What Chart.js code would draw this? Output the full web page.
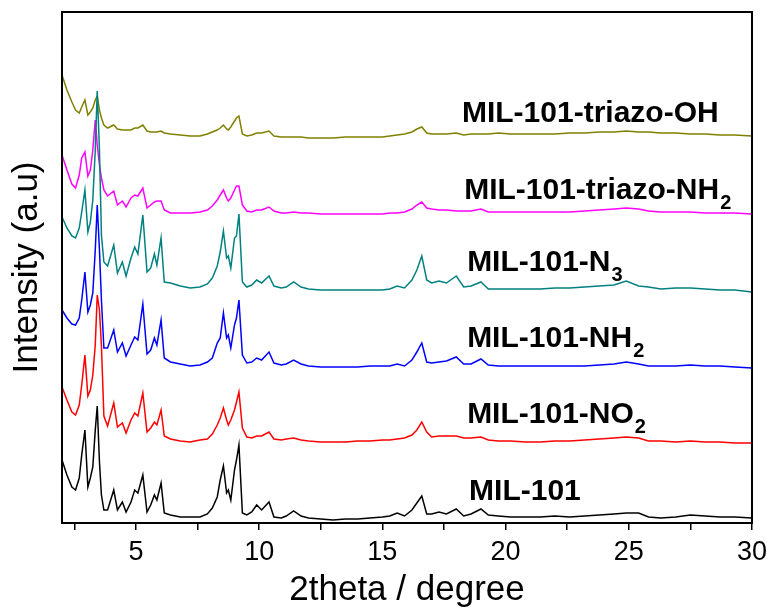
<!DOCTYPE html>
<html>
<head>
<meta charset="utf-8">
<script src="https://cdn.jsdelivr.net/npm/chart.js@4.4.0/dist/chart.umd.min.js"></script>
<style>
html, body { margin: 0; padding: 0; background: #fff; }
#wrap { width: 775px; height: 611px; }
</style>
</head>
<body>
<div id="wrap"><canvas id="xrd"></canvas></div>
<script>
// shared 2theta grid (degree)
const twoTheta = [
  2.0, 2.2, 2.4, 2.55, 2.7, 2.8, 2.93, 3.05, 3.15, 3.25,
  3.35, 3.43, 3.52, 3.6, 3.7, 3.85, 4.1, 4.25, 4.45, 4.6,
  4.8, 4.95, 5.08, 5.28, 5.45, 5.6, 5.75, 5.85, 6.02, 6.15,
  6.4, 6.8, 7.2, 7.6, 7.9, 8.1, 8.3, 8.42, 8.55, 8.68,
  8.75, 8.85, 9.0, 9.08, 9.18, 9.32, 9.5, 9.7, 9.9, 10.1,
  10.4, 10.6, 10.9, 11.1, 11.4, 11.7, 12.0, 12.5, 13.0, 13.5,
  14.0, 14.5, 15.0, 15.3, 15.6, 15.9, 16.2, 16.4, 16.6, 16.8,
  17.0, 17.3, 17.6, 18.0, 18.3, 18.6, 19.0, 19.3, 19.7, 20.2,
  20.8, 21.4, 22.0, 22.6, 23.2, 23.8, 24.4, 24.9, 25.4, 25.8,
  26.3, 26.9, 27.5, 28.1, 28.7, 29.3, 30.0
];

// intensities (a.u., already stacked with offsets as in the figure)
const mil101 = [
  63, 48, 36, 33, 45, 68, 93, 36, 45, 56,
  93, 117, 61, 28, 13, 13, 33, 13, 21, 11,
  21, 33, 30, 48, 11, 18, 28, 23, 40, 10,
  8, 6, 6, 6, 9, 15, 26, 43, 57, 30,
  33, 23, 53, 63, 78, 10, 8, 11, 18, 13,
  21, 6, 5, 7, 12, 7, 5, 4, 3, 4,
  4, 5, 6, 7, 10, 7, 13, 20, 27, 9,
  9, 11, 9, 14, 7, 9, 14, 8, 7, 6,
  6, 6, 7, 6, 7, 8, 9, 10, 10, 6,
  5, 6, 8, 7, 6, 6, 5
];
const mil101NO2 = [
  136, 123, 111, 108, 118, 138, 168, 127, 133, 148,
  178, 228, 213, 177, 107, 97, 120, 96, 100, 90,
  103, 110, 107, 130, 91, 95, 101, 98, 113, 87,
  84, 82, 81, 83, 84, 89, 98, 105, 115, 103,
  98, 103, 113, 121, 131, 95, 86, 85, 87, 87,
  91, 84, 83, 84, 85, 83, 82, 81, 81, 81,
  82, 82, 83, 83, 84, 85, 88, 93, 101, 91,
  86, 87, 87, 87, 85, 85, 86, 83, 82, 82,
  81, 81, 82, 82, 83, 84, 85, 86, 85, 82,
  82, 81, 82, 81, 81, 80, 80
];
const mil101NH2 = [
  213, 205, 199, 198, 205, 223, 251, 211, 218, 230,
  273, 318, 273, 223, 175, 175, 193, 171, 180, 167,
  178, 186, 183, 219, 169, 173, 185, 178, 203, 165,
  161, 159, 157, 158, 161, 165, 180, 185, 210, 185,
  188, 175, 198, 205, 223, 168, 160, 161, 165, 163,
  171, 160, 158, 159, 163, 159, 157, 156, 156, 156,
  156, 157, 157, 157, 159, 157, 163, 171, 180, 161,
  160, 161, 162, 166, 159, 159, 164, 158, 157, 157,
  157, 157, 157, 157, 157, 158, 159, 161, 159, 157,
  157, 157, 158, 157, 157, 156, 155
];
const mil101N3 = [
  306, 295, 287, 285, 295, 311, 333, 291, 301, 323,
  373, 432, 373, 288, 261, 257, 278, 250, 261, 247,
  265, 276, 269, 308, 251, 255, 269, 258, 285, 241,
  240, 237, 235, 236, 239, 245, 257, 271, 292, 265,
  267, 255, 285, 287, 309, 241, 236, 238, 243, 240,
  247, 237, 235, 236, 241, 236, 234, 233, 233, 233,
  233, 233, 233, 234, 237, 235, 243, 253, 267, 243,
  240, 242, 240, 247, 236, 237, 241, 234, 234, 234,
  234, 234, 235, 235, 236, 237, 238, 242, 237, 236,
  234, 235, 235, 234, 233, 233, 231
];
const triazoNH2 = [
  368, 353, 339, 335, 348, 365, 371, 347, 353, 373,
  403, 378, 358, 345, 333, 327, 332, 318, 322, 316,
  325, 328, 327, 335, 315, 318, 321, 322, 322, 313,
  310, 310, 310, 311, 313, 317, 323, 328, 333, 325,
  322, 325, 333, 337, 337, 318, 312, 311, 313, 313,
  316, 312, 310, 310, 311, 310, 310, 309, 309, 309,
  309, 309, 309, 310, 310, 311, 314, 318, 321, 315,
  314, 313, 313, 312, 312, 312, 314, 311, 311, 311,
  311, 311, 311, 311, 312, 313, 314, 315, 314, 312,
  311, 311, 311, 310, 310, 310, 309
];
const triazoOH = [
  448, 433, 421, 413, 410, 416, 423, 408, 411, 415,
  423, 427, 413, 405, 398, 395, 398, 394, 393, 393,
  393, 395, 395, 398, 392, 391, 391, 391, 392, 390,
  389, 388, 387, 387, 389, 391, 393, 395, 398, 394,
  393, 396, 402, 405, 407, 389, 387, 388, 390, 390,
  392, 387, 386, 386, 386, 386, 385, 385, 385, 386,
  386, 386, 386, 387, 388, 389, 391, 394, 396, 390,
  389, 389, 389, 390, 388, 389, 389, 389, 390, 389,
  389, 389, 389, 390, 390, 391, 391, 392, 391, 391,
  390, 390, 389, 389, 388, 388, 387
];

const seriesValues = [mil101, mil101NO2, mil101NH2, mil101N3, triazoNH2, triazoOH];
const seriesColors = ['#000000', '#ff0000', '#0000ff', '#008080', '#ff00ff', '#808000'];
const labelMain = ['MIL-101', 'MIL-101-NO', 'MIL-101-NH', 'MIL-101-N', 'MIL-101-triazo-NH', 'MIL-101-triazo-OH'];
const labelSub = ['', '2', '2', '3', '2', ''];
// label anchor: [2theta, intensity] of text start / baseline
const labelAnchor = [[18.52, 23], [18.44, 100], [18.44, 176], [18.44, 252], [18.32, 324], [18.23, 401]];
const xTicks = [2.5, 5, 7.5, 10, 12.5, 15, 17.5, 20, 22.5, 25, 27.5, 30];

const FONT = 'Liberation Sans, Arial, sans-serif';

// frame round the plot + curve labels
const framePlugin = {
  id: 'frame',
  afterDraw(chart) {
    const { ctx, chartArea: a, scales } = chart;
    ctx.save();
    ctx.strokeStyle = '#000';
    ctx.lineWidth = 2;
    ctx.strokeRect(a.left, a.top, a.right - a.left, a.bottom - a.top);
    ctx.fillStyle = '#000';
    ctx.textBaseline = 'alphabetic';
    for (let i = 0; i < labelMain.length; i++) {
      const x = scales.x.getPixelForValue(labelAnchor[i][0]);
      const y = scales.y.getPixelForValue(labelAnchor[i][1]);
      ctx.font = 'bold 30px ' + FONT;
      ctx.fillText(labelMain[i], x, y);
      if (labelSub[i]) {
        const w = ctx.measureText(labelMain[i]).width;
        ctx.font = 'bold 20px ' + FONT;
        ctx.fillText(labelSub[i], x + w + 1, y + 10);
      }
    }
    ctx.restore();
  }
};

new Chart(document.getElementById('xrd'), {
  type: 'line',
  data: {
    labels: twoTheta,
    datasets: seriesValues.map((vals, i) => ({
      label: labelMain[i] + labelSub[i],
      data: vals.map((v, j) => ({ x: twoTheta[j], y: v })),
      borderColor: seriesColors[i],
      borderWidth: 1.5,
      pointRadius: 0,
      tension: 0,
      fill: false
    }))
  },
  options: {
    responsive: true,
    maintainAspectRatio: false,
    animation: false,
    layout: { padding: { top: 12, right: 23, left: 0, bottom: 0 } },
    plugins: { legend: { display: false }, tooltip: { enabled: false } },
    scales: {
      x: {
        type: 'linear',
        min: 2,
        max: 30,
        afterFit: (s) => { s.height = 88; },
        afterBuildTicks: (s) => { s.ticks = xTicks.map(v => ({ value: v })); },
        border: { display: false },
        grid: { drawOnChartArea: false, drawTicks: true, tickLength: 7, color: '#000', lineWidth: 1.5 },
        ticks: {
          color: '#000',
          padding: 6,
          maxRotation: 0,
          autoSkip: false,
          font: { family: FONT, size: 27 },
          callback: (v) => (v % 5 === 0 ? String(v) : '')
        },
        title: {
          display: true,
          text: '2theta / degree',
          color: '#000',
          font: { family: FONT, size: 35 },
          padding: { top: 0, bottom: 0 }
        }
      },
      y: {
        min: 0,
        max: 511,
        afterFit: (s) => { s.width = 62; },
        border: { display: false },
        grid: { display: false },
        ticks: { display: false },
        title: {
          display: true,
          text: 'Intensity (a.u)',
          color: '#000',
          font: { family: FONT, size: 35 },
          padding: { top: 6, bottom: 0 }
        }
      }
    }
  },
  plugins: [framePlugin]
});
</script>
</body>
</html>
